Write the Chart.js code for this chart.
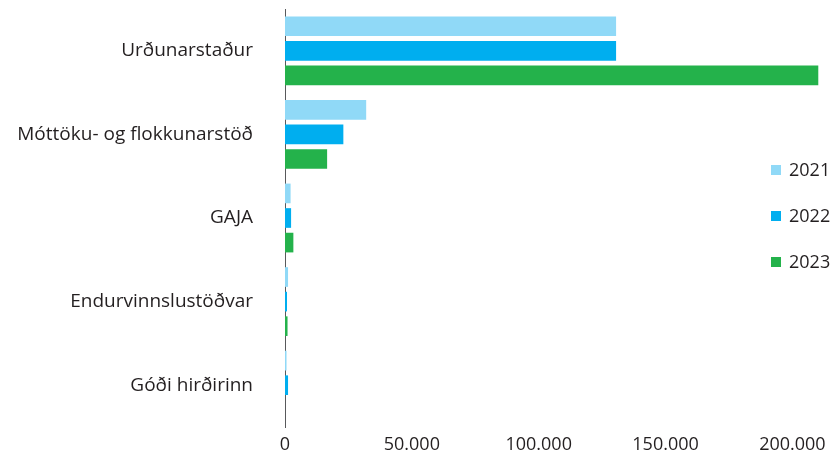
<!DOCTYPE html>
<html>
<head>
<meta charset="utf-8">
<script src="https://cdn.jsdelivr.net/npm/chart.js@4/dist/chart.umd.min.js"></script>
<style>
html,body{margin:0;padding:0;background:#fff;}
#wrap{width:839px;height:458px;position:relative;}
</style>
</head>
<body>
<div id="wrap"><canvas id="c" width="839" height="458"></canvas></div>
<script>
const categories = ["Urðunarstaður", "Móttöku- og flokkunarstöð", "GAJA", "Endurvinnslustöðvar", "Góði hirðirinn"];
const seriesLabels = ["2021", "2022", "2023"];
const values2021 = [130500, 32000, 2200, 1200, 600];
const values2022 = [130500, 23000, 2400, 800, 1200];
const values2023 = [210200, 16600, 3300, 1000, 0];
const xTicks = [0, 50000, 100000, 150000, 200000];
const colors = ["#90d9f7", "#00aeef", "#24b24b"];

const FONT = "'Open Sans', 'Noto Sans', sans-serif";
const TEXT = "#231f20";

function fmt(v){ return String(v).replace(/\B(?=(\d{3})+(?!\d))/g, "."); }

const legendPlugin = {
  id: "sideLegend",
  afterDraw(chart){
    const ctx = chart.ctx;
    const ca = chart.chartArea;
    const cy = (ca.top + ca.bottom) / 2 - 2;
    const gap = 46;
    ctx.save();
    ctx.font = "18px " + FONT;
    chart.data.datasets.forEach((ds, i) => {
      const y = cy + (i - 1) * gap;
      ctx.fillStyle = ds.backgroundColor;
      ctx.fillRect(771, y - 5, 10, 10);
      ctx.fillStyle = TEXT;
      ctx.textBaseline = "middle";
      ctx.textAlign = "left";
      ctx.fillText(ds.label, 789, y + 1);
    });
    ctx.restore();
  }
};

new Chart(document.getElementById("c"), {
  type: "bar",
  data: {
    labels: categories,
    datasets: [
      { label: seriesLabels[0], data: values2021, backgroundColor: colors[0] },
      { label: seriesLabels[1], data: values2022, backgroundColor: colors[1] },
      { label: seriesLabels[2], data: values2023, backgroundColor: colors[2] }
    ]
  },
  options: {
    indexAxis: "y",
    responsive: false,
    animation: false,
    devicePixelRatio: 1,
    categoryPercentage: 0.882,
    barPercentage: 0.8,
    layout: { padding: { top: 9, right: 6, left: 0, bottom: 0 } },
    plugins: { legend: { display: false }, tooltip: { enabled: false } },
    scales: {
      x: {
        min: 0,
        max: 216000,
        afterBuildTicks(s){ s.ticks = xTicks.map(v => ({ value: v })); },
        afterFit(s){ s.height = 31; s.paddingLeft = 0; s.paddingRight = 0; },
        grid: { display: false, drawTicks: false },
        border: { display: false },
        ticks: {
          padding: 7,
          color: TEXT,
          font: { family: FONT, size: 18 },
          maxRotation: 0,
          autoSkip: false,
          callback: (v) => fmt(v)
        }
      },
      y: {
        afterFit(s){ s.width = 285; s.paddingTop = 0; s.paddingBottom = 0; },
        grid: { display: false, drawTicks: false },
        border: { display: true, color: "#58595b", width: 1 },
        ticks: {
          padding: 32,
          color: TEXT,
          font: { family: FONT, size: 19 }
        }
      }
    }
  },
  plugins: [legendPlugin]
});
</script>
</body>
</html>
